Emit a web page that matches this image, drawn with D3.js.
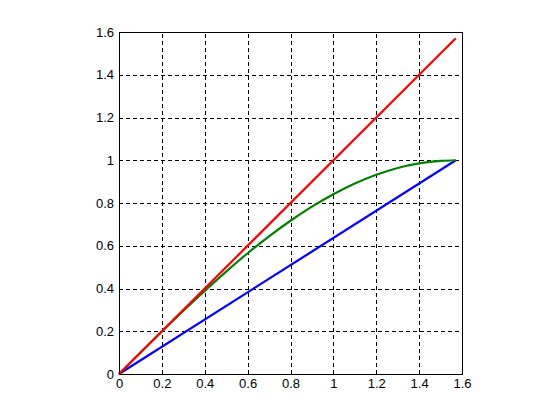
<!DOCTYPE html>
<html>
<head>
<meta charset="utf-8">
<script src="https://d3js.org/d3.v7.min.js"></script>
<style>
  body { margin: 0; background: #fff; }
  svg { display: block; }
</style>
</head>
<body>
<script>
// values
var xTicks = [0, 0.2, 0.4, 0.6, 0.8, 1, 1.2, 1.4, 1.6];
var yTicks = [0, 0.2, 0.4, 0.6, 0.8, 1, 1.2, 1.4, 1.6];
var greenX = [0, 0.1, 0.2, 0.3, 0.4, 0.5, 0.6, 0.7, 0.8, 0.9, 1.0, 1.1, 1.2, 1.3, 1.4, 1.5, 1.571];
var greenY = [0, 0.10, 0.199, 0.296, 0.389, 0.479, 0.565, 0.644, 0.717, 0.783, 0.841, 0.891, 0.932, 0.964, 0.985, 0.997, 1.0];
var redX = [0, 1.571];
var redY = [0, 1.571];
var blueX = [0, 1.571];
var blueY = [0, 1.0];

var width = 560, height = 420;
var plotLeft = 119, plotTop = 32, plotRight = 462, plotBottom = 374;

var svg = d3.select("body").append("svg").attr("width", width).attr("height", height);

var x = d3.scaleLinear().domain([0, 1.6]).range([plotLeft, plotRight]);
var y = d3.scaleLinear().domain([0, 1.6]).range([plotBottom, plotTop]);

// grid
var grid = svg.append("g").attr("stroke", "#000").attr("stroke-width", 1)
  .attr("stroke-dasharray", "4,3").attr("shape-rendering", "crispEdges");
xTicks.slice(1, -1).forEach(function(t) {
  grid.append("line").attr("x1", Math.round(x(t)) + 0.5).attr("x2", Math.round(x(t)) + 0.5)
    .attr("y1", plotBottom).attr("y2", plotTop);
});
yTicks.slice(1, -1).forEach(function(t) {
  grid.append("line").attr("y1", Math.round(y(t)) + 0.5).attr("y2", Math.round(y(t)) + 0.5)
    .attr("x1", plotLeft).attr("x2", plotRight);
});

// lines
var line = d3.line().curve(d3.curveMonotoneX)
  .x(function(d) { return x(d[0]); }).y(function(d) { return y(d[1]); });
function series(xs, ys, color) {
  svg.append("path").datum(d3.zip(xs, ys)).attr("d", line)
    .attr("fill", "none").attr("stroke", color).attr("stroke-width", 2.2)
    .attr("stroke-linejoin", "round");
}
series(blueX, blueY, "#0000ff");
series(greenX, greenY, "#008000");
series(redX, redY, "#ff0000");

// box
svg.append("rect").attr("x", plotLeft + 0.5).attr("y", plotTop + 0.5)
  .attr("width", plotRight - plotLeft).attr("height", plotBottom - plotTop)
  .attr("fill", "none").attr("stroke", "#000").attr("shape-rendering", "crispEdges");

// tick labels
var fmt = function(d) { return String(+d.toFixed(1)); };
var gx = svg.append("g").attr("transform", "translate(0," + plotBottom + ")")
  .call(d3.axisBottom(x).tickValues(xTicks).tickSize(0).tickPadding(5).tickFormat(fmt));
var gy = svg.append("g").attr("transform", "translate(" + plotLeft + ",0)")
  .call(d3.axisLeft(y).tickValues(yTicks).tickSize(0).tickPadding(5).tickFormat(fmt));
[gx, gy].forEach(function(g) {
  g.select(".domain").remove();
  g.selectAll("text").attr("fill", "#000")
    .style("font-family", '"Liberation Sans", Arial, sans-serif').style("font-size", "13px");
});
</script>
</body>
</html>
